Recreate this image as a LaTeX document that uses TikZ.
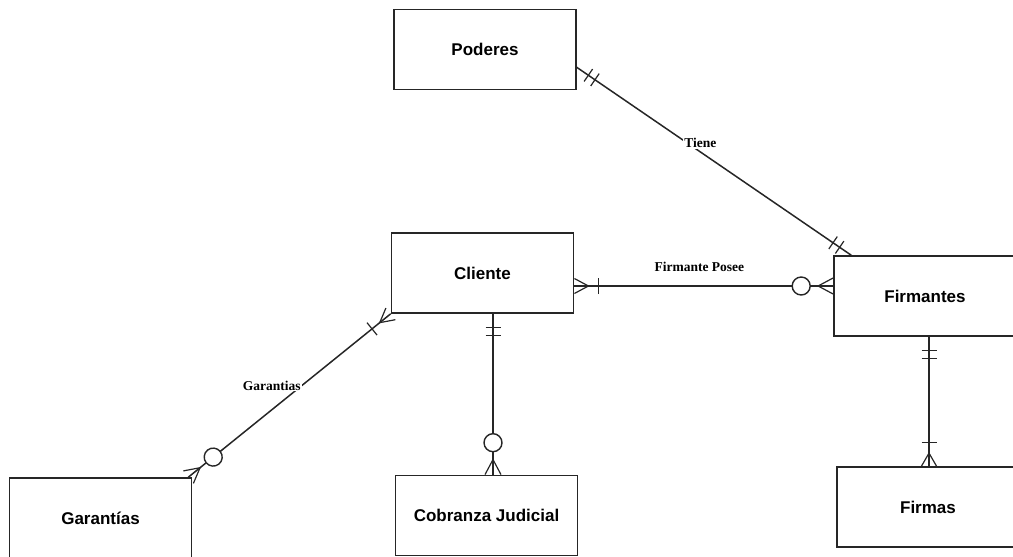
\documentclass[tikz,border=0pt]{standalone}
\usepackage{fontspec}
\setmainfont{Liberation Serif}
\newfontfamily\entfont{Liberation Sans}
\usetikzlibrary{decorations.markings}

\tikzset{
  entity/.style={draw=black!85,line width=1.6pt,fill=white,
    minimum width=182pt,minimum height=80pt,
    font=\entfont\bfseries\fontsize{17}{20}\selectfont},
  rel/.style={line width=1.5pt,draw=black!85},
  rlabel/.style={fill=white,inner sep=1pt,font=\bfseries\fontsize{13.5}{15}\selectfont},
  % cardinality marks
  one start/.style={postaction={decorate,decoration={markings,
    mark=at position 14pt with {\draw[line width=1.2pt] (0,-7.5pt)--(0,7.5pt);},
    mark=at position 22pt with {\draw[line width=1.2pt] (0,-7.5pt)--(0,7.5pt);}}}},
  one end/.style={postaction={decorate,decoration={markings,
    mark=at position -14pt with {\draw[line width=1.2pt] (0,-7.5pt)--(0,7.5pt);},
    mark=at position -22pt with {\draw[line width=1.2pt] (0,-7.5pt)--(0,7.5pt);}}}},
  onemany start/.style={postaction={decorate,decoration={markings,
    mark=at position 0.1pt with {\draw[line width=1.2pt] (0,7.5pt)--(14pt,0)--(0,-7.5pt);},
    mark=at position 24pt with {\draw[line width=1.2pt] (0,-8pt)--(0,8pt);}}}},
  onemany end/.style={postaction={decorate,decoration={markings,
    mark=at position -0.1pt with {\draw[line width=1.2pt] (0,7.5pt)--(-13pt,0)--(0,-7.5pt);},
    mark=at position -24pt with {\draw[line width=1.2pt] (0,-7.5pt)--(0,7.5pt);}}}},
  zeromany end/.style={postaction={decorate,decoration={markings,
    mark=at position -0.1pt with {\draw[line width=1.2pt] (0,8pt)--(-15pt,0)--(0,-8pt);},
    mark=at position -32pt with {\draw[line width=1.4pt,fill=white] (0,0) circle (9pt);}}}}
}

\begin{document}
\begin{tikzpicture}[x=1pt,y=-1pt]
\useasboundingbox (0,0) rectangle (1013,557);
\node[entity] (poderes) at (485,49.5) {Poderes};
\node[entity] (cliente) at (482.5,273) {Cliente};
\node[entity] (firmantes) at (925,296) {Firmantes};
\node[entity] (firmas) at (928,507) {Firmas};
\node[entity] (garantias) at (100.5,518) {Garantías};
\node[entity] (cobranza) at (486.5,515.5) {Cobranza Judicial};
% relaciones
\draw[rel,one start,one end] (poderes.-11) -- ([xshift=18pt]firmantes.north west)
  node[rlabel,pos=0.45,yshift=9pt]{Tiene};
\draw[rel,onemany start,zeromany end] ([yshift=-13pt]cliente.east) -- ([yshift=10pt]firmantes.west)
  node[pos=0.483,yshift=19pt,rlabel]{Firmante Posee};
\draw[rel,one start,zeromany end] ([xshift=10.5pt]cliente.south) -- ([xshift=6.5pt]cobranza.north);
\draw[rel,onemany start,zeromany end] (cliente.south west) -- ([xshift=-4pt]garantias.north east)
  node[rlabel,pos=0.44,xshift=-30pt]{Garantias};
\draw[rel,one start,onemany end] ([xshift=4pt]firmantes.south) -- ([xshift=1pt]firmas.north);
\end{tikzpicture}
\end{document}
